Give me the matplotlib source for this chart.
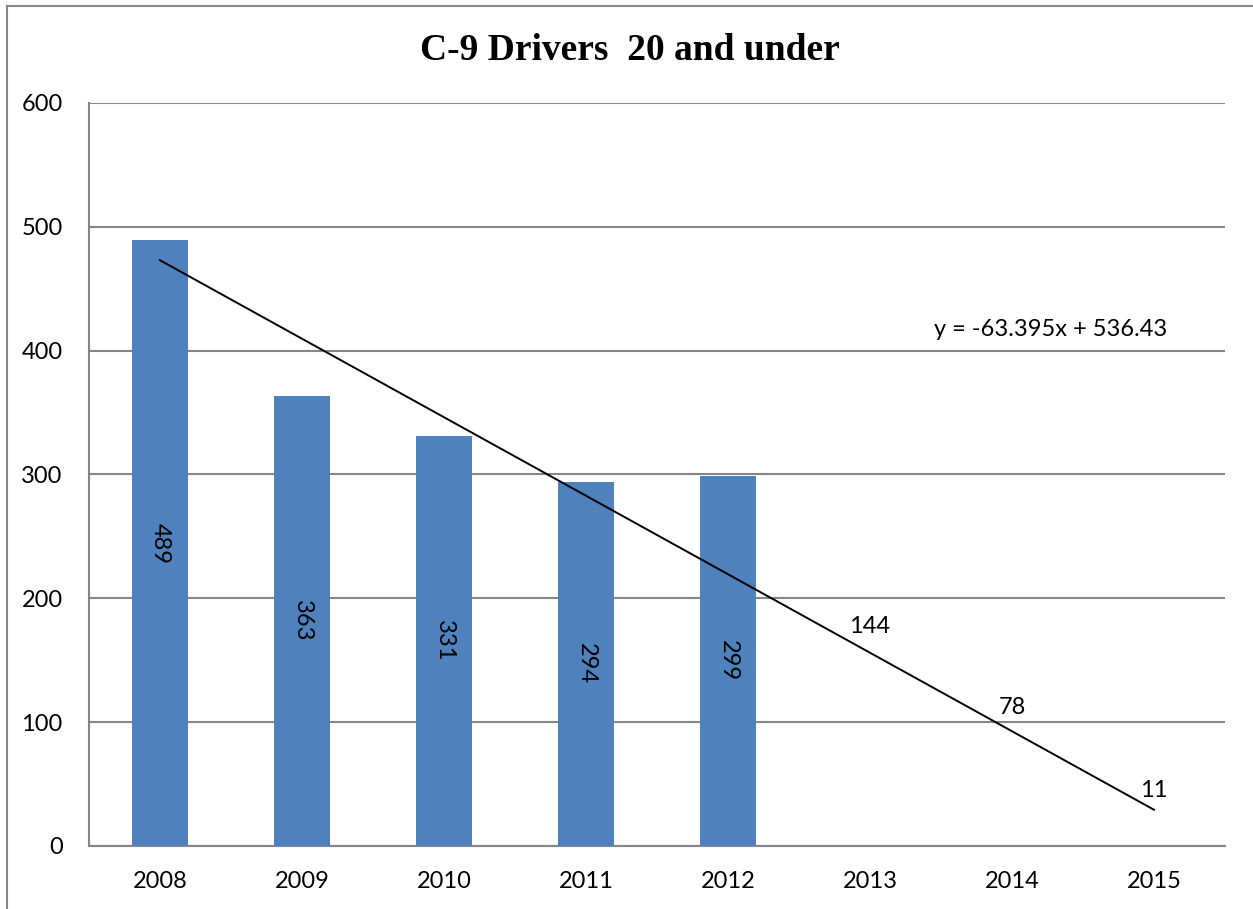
import numpy as np
import matplotlib
matplotlib.use('Agg')
import matplotlib.pyplot as plt
from matplotlib.lines import Line2D

# data
years = ['2008', '2009', '2010', '2011', '2012', '2013', '2014', '2015']
bar_values = [489, 363, 331, 294, 299]          # drawn as blue bars
proj_values = [144, 78, 11]                     # 2013-2015, label only
trend_slope = -63.395
trend_intercept = 536.43
y_ticks = [0, 100, 200, 300, 400, 500, 600]

plt.rcParams['font.family'] = ['Lato', 'DejaVu Sans']

fig = plt.figure(figsize=(12.53, 9.09), dpi=100)
ax = fig.add_axes([89/1253, 1 - 846/909, (1225-89)/1253, (846-103)/909])

x = np.arange(1, len(years) + 1)
xb = x[:len(bar_values)]
ax.bar(xb, bar_values, width=0.4, color='#4F81BD', zorder=3)

# rotated value labels inside the bars
for xi, v in zip(xb, bar_values):
    ax.text(xi, v / 2, str(v), rotation=270, ha='center', va='center',
            fontsize=17, color='black', zorder=5)

# labels of later years (no visible bar)
xp = x[len(bar_values):]
for xi, v in zip(xp, proj_values):
    ax.annotate(str(v), (xi, v), xytext=(0, 30), textcoords='offset points',
                ha='center', va='center', fontsize=17, zorder=5)

# linear trendline
trend = trend_slope * x + trend_intercept
ax.plot(x, trend, color='black', linewidth=1.4, zorder=4)
ax.text(7.27, 417, 'y = -63.395x + 536.43', ha='center', va='center', fontsize=17)

ax.set_xlim(0.5, len(years) + 0.5)
ax.set_ylim(0, 600)
ax.set_xticks(x)
ax.set_xticklabels(years)
ax.set_yticks(y_ticks)
ax.tick_params(axis='both', length=0, labelsize=17)
ax.tick_params(axis='y', pad=19)
ax.tick_params(axis='x', pad=18)
ax.yaxis.grid(True, color='#868686', linewidth=1.5, zorder=0)
ax.set_axisbelow(True)
for s in ['top', 'right']:
    ax.spines[s].set_visible(False)
for s in ['left', 'bottom']:
    ax.spines[s].set_color('#868686')
    ax.spines[s].set_linewidth(1.5)

fig.text(630/1253, 1 - 51/909, 'C-9 Drivers  20 and under', ha='center', va='center',
         fontsize=27, fontweight='bold', family=['Liberation Serif', 'DejaVu Serif'])

# outer chart border
fig.add_artist(Line2D([7/1253, 7/1253], [0, 1 - 6/909], transform=fig.transFigure,
                      color='#868686', linewidth=1.5))
fig.add_artist(Line2D([7/1253, 1], [1 - 6/909, 1 - 6/909], transform=fig.transFigure,
                      color='#868686', linewidth=1.5))

fig.savefig('out.png', dpi=100)
